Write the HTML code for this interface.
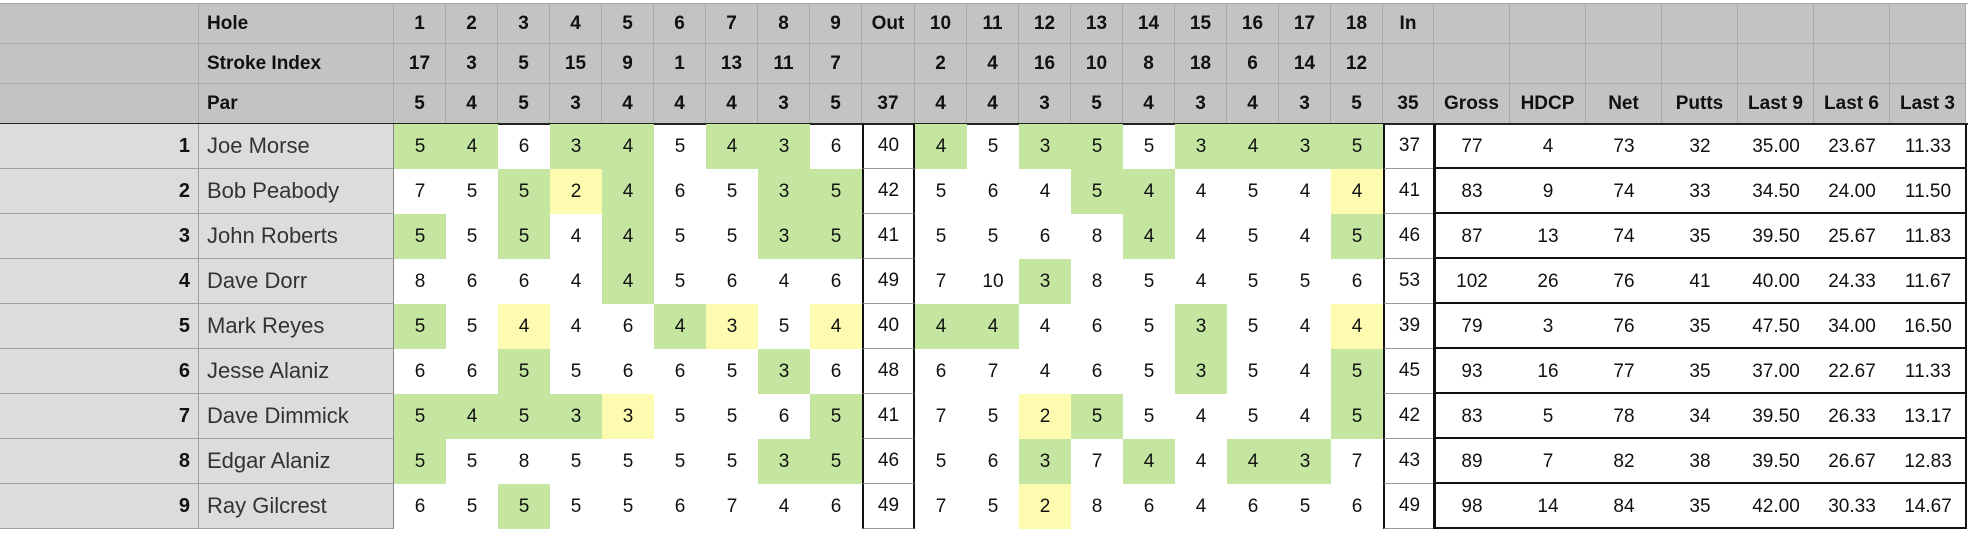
<!DOCTYPE html>
<html><head><meta charset="utf-8">
<style>
body{margin:0;width:1968px;height:534px;background:#fff;overflow:hidden;font-family:"Liberation Sans",Arial,sans-serif;position:relative}
.c{position:absolute;box-sizing:border-box;display:flex;align-items:center;justify-content:center;font-size:19px;color:#111}
.h{background:#c2c4c2;font-weight:bold;border-right:1px solid #a9aba9;border-bottom:1px solid #a9aba9;color:#111;font-size:19px}
.rn{background:#dcdcdc;border-right:1px solid #a0a0a0;border-bottom:1px solid #a0a0a0;justify-content:flex-end;padding-right:8px;font-weight:bold;font-size:20px}
.nm{background:#dcdcdc;border-right:1px solid #888;border-bottom:1px solid #a0a0a0;justify-content:flex-start;padding-left:8px;font-size:22px;color:#333}
.g{background:#c4e6a0}.y{background:#fdfbb0}
</style></head><body>
<div id="root"></div>
<script>
const holes=[1,2,3,4,5,6,7,8,9,10,11,12,13,14,15,16,17,18];
const strokeIndex=[17,3,5,15,9,1,13,11,7,2,4,16,10,8,18,6,14,12];
const par=[5,4,5,3,4,4,4,3,5,4,4,3,5,4,3,4,3,5];
const players=["Joe Morse","Bob Peabody","John Roberts","Dave Dorr","Mark Reyes","Jesse Alaniz","Dave Dimmick","Edgar Alaniz","Ray Gilcrest"];
const scores=[
[5,4,6,3,4,5,4,3,6,4,5,3,5,5,3,4,3,5],
[7,5,5,2,4,6,5,3,5,5,6,4,5,4,4,5,4,4],
[5,5,5,4,4,5,5,3,5,5,5,6,8,4,4,5,4,5],
[8,6,6,4,4,5,6,4,6,7,10,3,8,5,4,5,5,6],
[5,5,4,4,6,4,3,5,4,4,4,4,6,5,3,5,4,4],
[6,6,5,5,6,6,5,3,6,6,7,4,6,5,3,5,4,5],
[5,4,5,3,3,5,5,6,5,7,5,2,5,5,4,5,4,5],
[5,5,8,5,5,5,5,3,5,5,6,3,7,4,4,4,3,7],
[6,5,5,5,5,6,7,4,6,7,5,2,8,6,4,6,5,6]];
const statHeads=["Gross","HDCP","Net","Putts","Last 9","Last 6","Last 3"];
const stats=[
[77,4,73,32,"35.00","23.67","11.33"],
[83,9,74,33,"34.50","24.00","11.50"],
[87,13,74,35,"39.50","25.67","11.83"],
[102,26,76,41,"40.00","24.33","11.67"],
[79,3,76,35,"47.50","34.00","16.50"],
[93,16,77,35,"37.00","22.67","11.33"],
[83,5,78,34,"39.50","26.33","13.17"],
[89,7,82,38,"39.50","26.67","12.83"],
[98,14,84,35,"42.00","30.33","14.67"]];

const root=document.getElementById('root');
const colX=[];let x=394;
for(let i=0;i<9;i++){colX.push([x,52]);x+=52;}
const outX=[862,53];x=915;
for(let i=9;i<18;i++){colX.push([x,52]);x+=52;}
const inX=[1383,51];
const statX=[];x=1434;
for(let i=0;i<7;i++){statX.push([x,76]);x+=76;}
const HY=[4,44,84],HH=40,RY=124,RH=45;
function cell(cls,l,t,w,h,txt,name){
  const d=document.createElement('div');
  d.className='c '+cls;
  d.style.left=l+'px';d.style.top=t+'px';d.style.width=w+'px';d.style.height=h+'px';
  d.textContent=txt;
  
  
  root.appendChild(d);return d;
}
const tb=cell('',0,3,1968,1,'','top-border');tb.style.background='#a9aba9';
const hdrLabels=["Hole","Stroke Index","Par"];
for(let r=0;r<3;r++){
  const y=HY[r];
  cell('h',0,y,199,HH,'','header-corner');
  const lab=cell('h',199,y,195,HH,hdrLabels[r],'header-label');lab.style.justifyContent='flex-start';lab.style.paddingLeft='8px';
  for(let i=0;i<18;i++){
    const v=r===0?holes[i]:r===1?strokeIndex[i]:par[i];
    cell('h',colX[i][0],y,colX[i][1],HH,v,'header-hole-'+holes[i]);
  }
  const outSum=par.slice(0,9).reduce((a,b)=>a+b,0),inSum=par.slice(9).reduce((a,b)=>a+b,0);
  cell('h',outX[0],y,outX[1],HH,r===0?'Out':r===2?outSum:'','header-out');
  cell('h',inX[0],y,inX[1],HH,r===0?'In':r===2?inSum:'','header-in');
  for(let s=0;s<7;s++) cell('h',statX[s][0],y,statX[s][1],HH,r===2?statHeads[s]:'','header-stat');
}
const hb=cell('',0,123,1968,2,'','header-bottom-border');hb.style.background='#222';
for(let p=0;p<players.length;p++){
  const y=RY+p*RH;
  cell('rn',0,y,199,RH,p+1,'row-number');
  cell('nm',199,y,195,RH,players[p],'player-name');
  for(let i=0;i<18;i++){
    const s=scores[p][i];
    const cls=s===par[i]?'g':s<par[i]?'y':'';
    cell(cls,colX[i][0],y,colX[i][1],RH,s,'score-cell');
  }
  const o=scores[p].slice(0,9).reduce((a,b)=>a+b,0),n=scores[p].slice(9).reduce((a,b)=>a+b,0);
  const oc=cell('',outX[0],y,outX[1],RH,o,'out-total');
  oc.style.borderLeft='2px solid #111';oc.style.borderRight='2px solid #111';oc.style.borderBottom='1px solid #999';
  const ic=cell('',inX[0],y,inX[1],RH,n,'in-total');
  ic.style.borderLeft='2px solid #111';ic.style.borderBottom='1px solid #999';
  for(let s=0;s<7;s++){
    cell('',statX[s][0],y,statX[s][1],RH,stats[p][s],'stat-cell');
  }
  const sb=cell('',1434,y+RH-2,532,2,'','stat-row-border');sb.style.background='#111';
}
const sl=cell('',1433,124,3,405,'','stat-left-border');sl.style.background='#111';
const sr=cell('',1965,124,2,405,'','stat-right-border');sr.style.background='#111';
</script>
</body></html>
